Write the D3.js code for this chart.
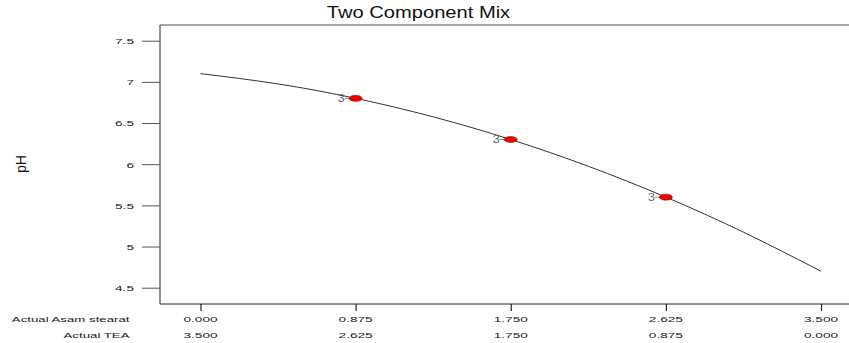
<!DOCTYPE html>
<html>
<head>
<meta charset="utf-8">
<script src="https://cdn.jsdelivr.net/npm/d3@7"></script>
<style>
  html, body { margin: 0; padding: 0; background: #fff; }
  svg { display: block; }
  text { font-family: "Liberation Sans", Arial, sans-serif; }
</style>
</head>
<body>
<svg id="chart" width="849" height="343"></svg>
<script>
// ---- data ----
const title = "Two Component Mix";
const yLabel = "pH";
const xRowLabels = ["Actual Asam stearat", "Actual TEA"];
const asamTicks = [0.000, 0.875, 1.750, 2.625, 3.500];
const teaTicks  = [3.500, 2.625, 1.750, 0.875, 0.000];
const yTicks = [4.5, 5, 5.5, 6, 6.5, 7, 7.5];
// fitted curve (Asam stearat vs pH)
const curveX = [0, 0.4375, 0.875, 1.3125, 1.75, 2.1875, 2.625, 3.0625, 3.5];
const curveY = [7.10, 6.975, 6.80, 6.575, 6.30, 5.975, 5.60, 5.175, 4.70];
// design points (each replicated 3 times)
const pointX = [0.875, 1.75, 2.625];
const pointY = [6.80, 6.30, 5.60];
const pointCount = [3, 3, 3];

// ---- layout ----
const svg = d3.select("#chart");
const plot = { left: 160, top: 25, bottom: 304, right: 862 };
const x = d3.scaleLinear().domain([0, 3.5]).range([200.5, 821]);
const y = d3.scaleLinear().domain([4.5, 7.5]).range([287.7, 40.7]);
const sx = 1.75;          // horizontal stretch of small labels
const fs = 7.8;

// plot frame
svg.append("line").attr("x1", plot.left).attr("x2", 849).attr("y1", plot.top).attr("y2", plot.top)
  .attr("stroke", "#8a8a8a").attr("stroke-width", 1.6);
svg.append("line").attr("x1", plot.left).attr("x2", 849).attr("y1", plot.bottom).attr("y2", plot.bottom)
  .attr("stroke", "#222").attr("stroke-width", 1);
svg.append("line").attr("x1", plot.left).attr("x2", plot.left).attr("y1", plot.top).attr("y2", plot.bottom)
  .attr("stroke", "#222").attr("stroke-width", 1);

// y axis (ticks outside the frame)
const yAxis = d3.axisLeft(y).tickValues(yTicks).tickSize(18).tickPadding(0).tickFormat(d3.format("~g"));
const gy = svg.append("g").attr("transform", `translate(${plot.left},0)`).call(yAxis);
gy.select(".domain").remove();
gy.selectAll(".tick line").attr("stroke", "#555").attr("stroke-width", 1);
gy.selectAll(".tick text").each(function(d) {
  const t = d3.select(this);
  t.attr("x", null).attr("dy", null).attr("text-anchor", "end")
   .attr("fill", "#222").attr("font-size", fs)
   .attr("transform", `translate(-26,2.9) scale(${sx},1)`);
});

// x axis ticks (downward)
const xAxis = d3.axisBottom(x).tickValues(asamTicks).tickSize(7).tickFormat("");
const gx = svg.append("g").attr("transform", `translate(0,${plot.bottom})`).call(xAxis);
gx.select(".domain").remove();
gx.selectAll(".tick line").attr("stroke", "#222").attr("stroke-width", 1.2);

// x row labels
const rows = [
  { label: xRowLabels[0], vals: asamTicks, y: 322 },
  { label: xRowLabels[1], vals: teaTicks, y: 338 }
];
rows.forEach(r => {
  svg.append("text").attr("text-anchor", "end").attr("font-size", fs).attr("fill", "#222")
    .attr("transform", `translate(129.5,${r.y}) scale(${sx * 0.97},1)`).text(r.label);
  asamTicks.forEach((v, i) => {
    svg.append("text").attr("text-anchor", "middle").attr("font-size", fs).attr("fill", "#222")
      .attr("transform", `translate(${x(v)},${r.y}) scale(${sx},1)`).text(d3.format(".3f")(r.vals[i]));
  });
});

// title
svg.append("text").attr("text-anchor", "middle").attr("font-size", 16.5).attr("fill", "#111")
  .attr("transform", `translate(418.5,17.5) scale(1.22,1)`).text(title);

// y label
svg.append("text").attr("text-anchor", "middle").attr("font-size", 14).attr("fill", "#111")
  .attr("transform", `translate(26,164) rotate(-90)`).text(yLabel);

// curve
const line = d3.line().x((d, i) => x(curveX[i])).y(d => y(d)).curve(d3.curveNatural);
svg.append("path").attr("d", line(curveY)).attr("fill", "none")
  .attr("stroke", "#333").attr("stroke-width", 1);

// design points
const pts = svg.append("g");
pointX.forEach((px, i) => {
  const cx = x(px), cy = y(pointY[i]);
  pts.append("line").attr("x1", cx - 11).attr("x2", cx).attr("y1", cy).attr("y2", cy)
    .attr("stroke", "#889").attr("stroke-width", 1);
  pts.append("text").attr("text-anchor", "middle").attr("font-size", 10.5).attr("fill", "#666")
    .attr("transform", `translate(${cx - 14.5},${cy + 3.6}) scale(1.2,1)`).text(pointCount[i]);
  pts.append("ellipse").attr("cx", cx).attr("cy", cy).attr("rx", 6.5).attr("ry", 3)
    .attr("fill", "#ee0000").attr("stroke", "#b00000").attr("stroke-width", 0.6);
});
</script>
</body>
</html>
